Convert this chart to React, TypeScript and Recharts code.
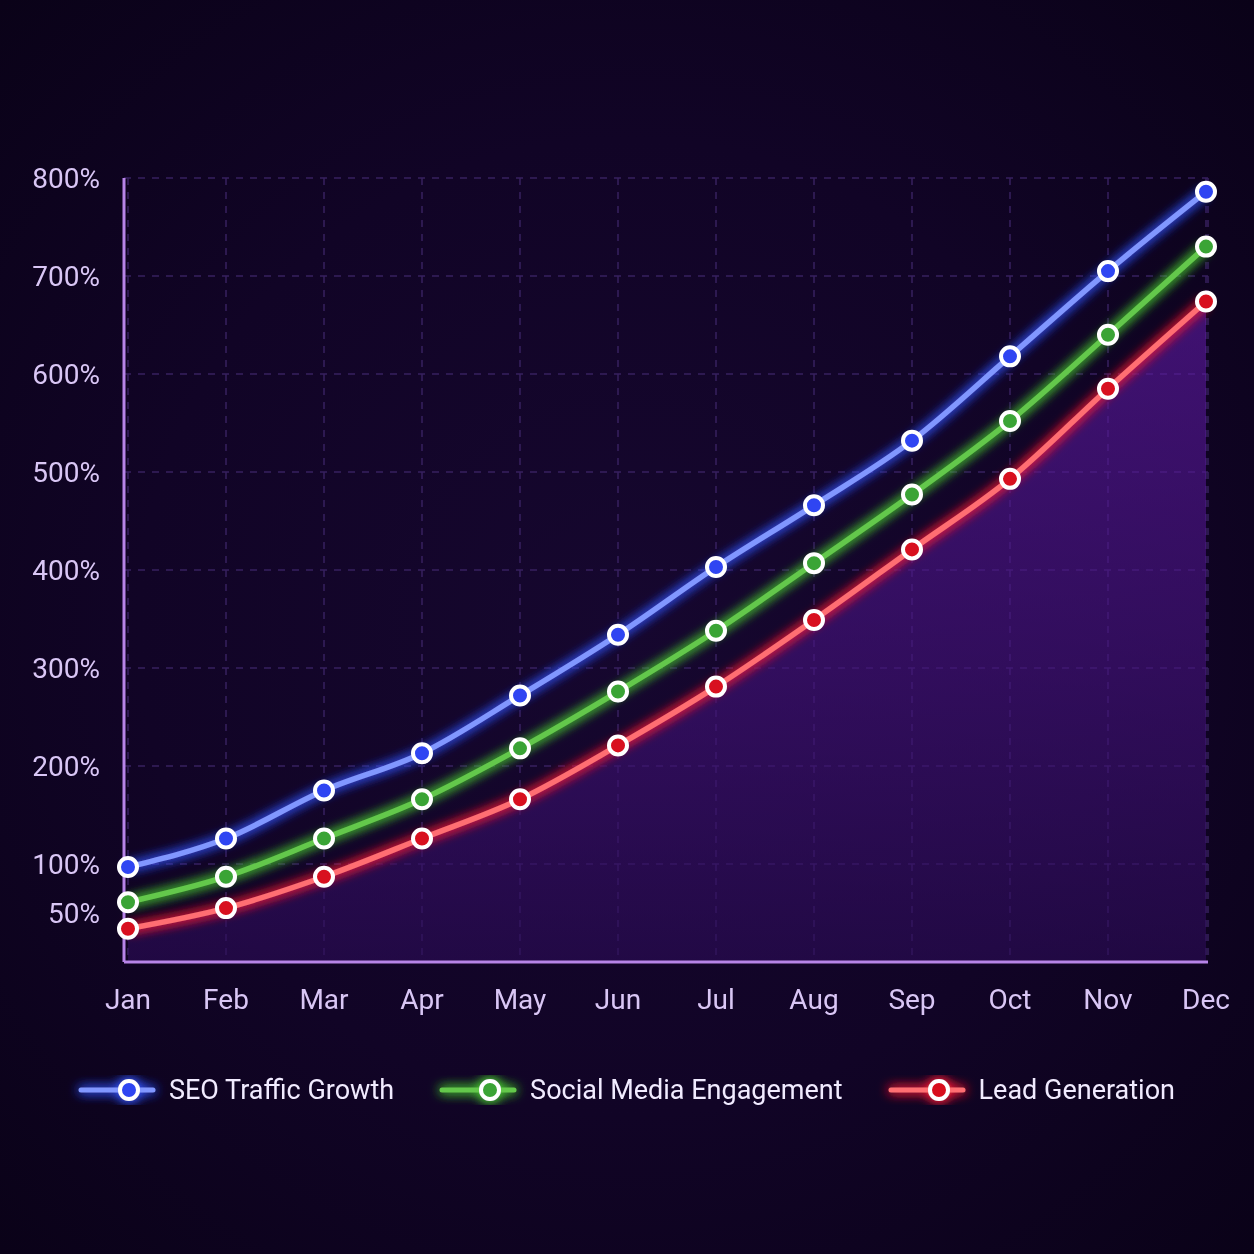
import React from 'react';
import { ComposedChart, Line, Area, XAxis, YAxis, CartesianGrid, Legend } from 'recharts';

const months = ['Jan', 'Feb', 'Mar', 'Apr', 'May', 'Jun', 'Jul', 'Aug', 'Sep', 'Oct', 'Nov', 'Dec'];
const seoTraffic = [97, 126, 175, 213, 272, 334, 403, 466, 532, 618, 705, 786];
const socialEngagement = [61, 87, 126, 166, 218, 276, 338, 407, 477, 552, 640, 730];
const leadGeneration = [34, 55, 87, 126, 166, 221, 281, 349, 421, 493, 585, 674];
const yTicks = [50, 100, 200, 300, 400, 500, 600, 700, 800];
const gridValues = [100, 200, 300, 400, 500, 600, 700, 800];

const chartData = months.map((m, i) => ({
  month: m,
  seo: seoTraffic[i],
  social: socialEngagement[i],
  lead: leadGeneration[i],
}));

const series = [
  { key: 'seo', name: 'SEO Traffic Growth', line: '#8197ff', dot: '#2f45f2', glow: '#3355ff' },
  { key: 'social', name: 'Social Media Engagement', line: '#64c84b', dot: '#3aa435', glow: '#48d030' },
  { key: 'lead', name: 'Lead Generation', line: '#ff6e72', dot: '#d8101f', glow: '#ff1f35' },
];

const FONT = 'Roboto, "Noto Sans", sans-serif';

const LegendRow = () => (
  <div style={{ display: 'flex', justifyContent: 'center', alignItems: 'center', gap: 46, fontFamily: FONT }}>
    {series.map((s) => (
      <div key={s.key} style={{ display: 'flex', alignItems: 'center' }}>
        <svg width={78} height={30} style={{ overflow: 'visible' }}>
          <g filter={`url(#glow-${s.key})`}>
            <line x1={2} y1={15} x2={74} y2={15} stroke={s.line} strokeWidth={5} strokeLinecap="round" />
            <circle cx={50} cy={15} r={9} fill={s.dot} stroke="#ffffff" strokeWidth={4} />
          </g>
        </svg>
        <span style={{ color: '#f1ebff', fontSize: 27, marginLeft: 12 }}>{s.name}</span>
      </div>
    ))}
  </div>
);

const App = () => {
  return (
    <div
      style={{
        position: 'fixed',
        left: 0,
        top: 0,
        width: 1254,
        height: 1254,
        background: 'radial-gradient(ellipse at 50% 50%, #16072f 0%, #110426 55%, #0a0218 100%)',
      }}
    >
      <style>{`
        .glow-seo { filter: url(#glow-seo); }
        .glow-social { filter: url(#glow-social); }
        .glow-lead { filter: url(#glow-lead); }
      `}</style>
      <ComposedChart
        width={1254}
        height={1254}
        data={chartData}
        margin={{ top: 178, right: 46, left: 24, bottom: 200 }}
      >
        <defs>
          <linearGradient id="leadFill" x1="0" y1="0" x2="0" y2="1">
            <stop offset="0%" stopColor="#611ba8" stopOpacity={1} />
            <stop offset="55%" stopColor="#46137f" stopOpacity={1} />
            <stop offset="100%" stopColor="#2c0c58" stopOpacity={1} />
          </linearGradient>
          {series.map((s) => (
            <filter key={s.key} id={`glow-${s.key}`} x="-30%" y="-30%" width="160%" height="160%">
              <feGaussianBlur in="SourceAlpha" stdDeviation="6" result="blur" />
              <feFlood floodColor={s.glow} floodOpacity="1" />
              <feComposite in2="blur" operator="in" result="glow" />
              <feMerge>
                <feMergeNode in="glow" />
                <feMergeNode in="glow" />
                <feMergeNode in="SourceGraphic" />
              </feMerge>
            </filter>
          ))}
        </defs>
        <CartesianGrid
          stroke="#37205f"
          strokeDasharray="7 7"
          strokeWidth={1.5}
          horizontalValues={gridValues}
        />
        <Area
          dataKey="lead"
          type="monotone"
          fill="url(#leadFill)"
          stroke="none"
          isAnimationActive={false}
          legendType="none"
          activeDot={false}
        />
        <XAxis
          dataKey="month"
          padding={{ left: 4, right: 2 }}
          axisLine={{ stroke: '#b784e8', strokeWidth: 3 }}
          tickLine={false}
          tickSize={0}
          tickMargin={27}
          height={60}
          tick={{ fill: '#d9c6f5', fontSize: 28, fontFamily: FONT }}
          interval={0}
        />
        <YAxis
          domain={[0, 800]}
          ticks={yTicks}
          width={100}
          axisLine={{ stroke: '#b784e8', strokeWidth: 3 }}
          tickLine={false}
          tickSize={0}
          tickMargin={24}
          tickFormatter={(v: number) => `${v}%`}
          tick={{ fill: '#d9c6f5', fontSize: 28, fontFamily: FONT }}
        />
        {series.map((s) => (
          <Line
            key={s.key}
            className={`glow-${s.key}`}
            dataKey={s.key}
            name={s.name}
            type="monotone"
            stroke={s.line}
            strokeWidth={5.5}
            dot={{ r: 9, fill: s.dot, stroke: '#ffffff', strokeWidth: 4 }}
            activeDot={false}
            isAnimationActive={false}
          />
        ))}
        <Legend
          verticalAlign="bottom"
          content={() => <LegendRow />}
          wrapperStyle={{ top: 1074, left: 0, width: 1254, bottom: 'auto' }}
        />
      </ComposedChart>
    </div>
  );
};

export default App;
